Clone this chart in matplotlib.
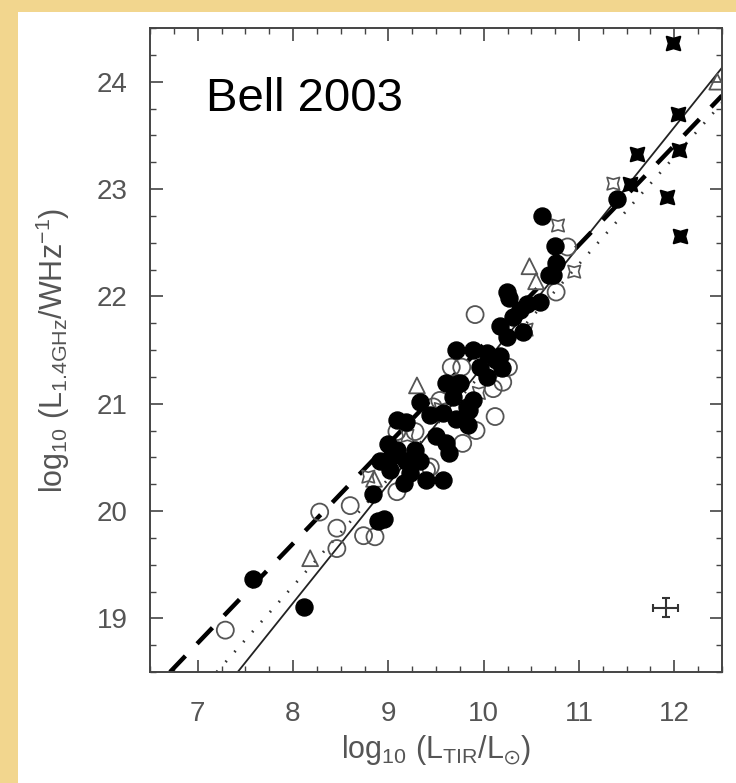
import matplotlib
matplotlib.use("Agg")
import matplotlib.pyplot as plt
from matplotlib.patches import Rectangle
from matplotlib.ticker import MultipleLocator

plt.rcParams['font.family'] = ['Liberation Sans', 'DejaVu Sans']
plt.rcParams['mathtext.fontset'] = 'custom'
plt.rcParams['mathtext.rm'] = 'Liberation Sans'
plt.rcParams['mathtext.it'] = 'Liberation Sans'
plt.rcParams['mathtext.default'] = 'regular'

# ---------------- data ----------------
filled_x = [7.58, 8.12, 8.89, 8.95, 8.84, 8.91, 9.03, 9.09, 9.02, 9.19, 9.23, 9.28, 9.33,
            9.16, 9.40, 9.57, 9.61, 9.64, 9.09, 9.19, 9.44, 9.57, 9.71, 9.84, 9.33, 9.68,
            9.82, 9.89, 9.85, 9.61, 9.75, 9.71, 9.89, 10.03, 10.17, 9.96, 10.03, 10.19,
            10.13, 10.24, 10.45, 10.59, 10.31, 10.17, 10.27, 10.38, 10.24, 10.41, 10.61,
            10.75, 10.76, 10.73, 11.40, 9.50, 9.00, 10.69]
filled_y = [19.37, 19.11, 19.91, 19.93, 20.16, 20.47, 20.50, 20.57, 20.38, 20.47, 20.35, 20.57, 20.47,
            20.26, 20.29, 20.29, 20.63, 20.54, 20.85, 20.83, 20.89, 20.91, 20.86, 20.80, 21.02, 21.06,
            20.97, 21.03, 20.94, 21.19, 21.19, 21.50, 21.50, 21.47, 21.44, 21.34, 21.25, 21.33,
            21.41, 22.04, 21.93, 21.95, 21.81, 21.72, 21.98, 21.87, 21.62, 21.67, 22.75,
            22.47, 22.31, 22.20, 22.91, 20.70, 20.62, 22.20]

open_x = [7.29, 8.28, 8.60, 8.46, 8.74, 8.86, 8.46, 9.09, 9.44, 9.40, 9.09, 9.28, 9.78,
          9.92, 10.12, 9.54, 9.47, 9.66, 9.77, 10.26, 10.20, 10.10, 9.91, 10.76, 10.88]
open_y = [18.89, 19.99, 20.05, 19.84, 19.77, 19.76, 19.65, 20.18, 20.41, 20.38, 20.74, 20.74, 20.63,
          20.75, 20.88, 21.03, 20.97, 21.34, 21.34, 21.34, 21.20, 21.14, 21.83, 22.04, 22.46]

tri_x = [8.18, 9.30, 10.48, 10.55, 12.45, 8.85]
tri_y = [19.56, 21.17, 22.28, 22.14, 24.00, 20.30]

star_x = [8.79, 9.20, 9.55, 9.95, 10.20, 10.45, 10.78, 10.95, 11.36]
star_y = [20.32, 20.70, 20.95, 21.10, 21.31, 21.69, 22.66, 22.23, 23.05]

xmark_x = [11.985, 12.04, 11.61, 12.05, 11.92, 12.06, 11.53]
xmark_y = [24.36, 23.70, 23.33, 23.36, 22.93, 22.56, 23.05]

solid_x, solid_y = [7.42, 12.5], [18.5, 24.13]
dashed_x, dashed_y = [6.71, 12.5], [18.5, 23.87]
dotted_x, dotted_y = [7.20, 12.5], [18.5, 23.80]

err_x, err_y, err_dx, err_dy = [11.91], [19.10], [0.13], [0.09]

xticks = [7, 8, 9, 10, 11, 12]
yticks = [19, 20, 21, 22, 23, 24]

# ---------------- figure ----------------
fig = plt.figure(figsize=(7.36, 7.83), dpi=100)
fig.patch.set_facecolor('#F2D68E')
bg = fig.add_axes([0, 0, 1, 1], zorder=-10)
bg.set_xlim(0, 736)
bg.set_ylim(783, 0)
bg.axis('off')
bg.add_patch(Rectangle((18, 12), 736, 783, facecolor='white', edgecolor='none'))

ax = fig.add_axes([150/736, 1 - 672/783, 572/736, 644/783], zorder=1)
ax.set_facecolor('white')
ax.set_xlim(6.5, 12.5)
ax.set_ylim(18.5, 24.5)

# lines
ax.plot(solid_x, solid_y, color='#222222', lw=1.3, zorder=2)
ax.plot(dashed_x, dashed_y, color='black', lw=3.2, dashes=(5, 3.8), zorder=2)
ax.plot(dotted_x, dotted_y, color='#333333', lw=2.0, dashes=(0.6, 4.2), zorder=2)

# points
ax.scatter(open_x, open_y, s=150, facecolors='none', edgecolors='#555555', linewidths=1.3, zorder=3)
ax.scatter(tri_x, tri_y, s=130, marker='^', facecolors='none', edgecolors='#555555', linewidths=1.3, zorder=3)
ax.scatter(star_x, star_y, s=160, marker=(4, 1, 45), facecolors='none', edgecolors='#555555', linewidths=1.2, zorder=3)
ax.scatter(filled_x, filled_y, s=150, color='black', zorder=4)
ax.scatter(xmark_x, xmark_y, s=190, marker=(4, 1, 45), color='black', edgecolors='black',
           linewidths=1.5, zorder=4)

ax.errorbar(err_x, err_y, xerr=err_dx, yerr=err_dy, fmt='none', ecolor='#333333',
            elinewidth=1.5, capsize=3, capthick=1.5)

ax.text(0.098, 0.871, 'Bell 2003', transform=ax.transAxes, fontsize=34,
        family='Liberation Sans', color='black', ha='left', va='baseline')

# axes styling
ax.set_xticks(xticks)
ax.set_yticks(yticks)
ax.xaxis.set_minor_locator(MultipleLocator(0.25))
ax.yaxis.set_minor_locator(MultipleLocator(0.25))
ax.tick_params(which='both', direction='in', top=True, right=True, colors='#444444')
ax.tick_params(which='major', length=9, width=1.2, labelsize=20, labelcolor='#555555')
ax.tick_params(which='minor', length=4.5, width=1.0)
ax.tick_params(axis='x', which='major', pad=21)
ax.tick_params(axis='y', which='major', pad=16)
for sp in ax.spines.values():
    sp.set_color('#444444')
    sp.set_linewidth(1.4)

ax.set_xlabel(r'log$_{10}$ (L$_{TIR}$/L$_{\odot}$)', fontsize=22, color='#555555', labelpad=4)
ax.set_ylabel(r'log$_{10}$ (L$_{1.4GHz}$/WHz$^{-1}$)', fontsize=22, color='#555555', labelpad=18)

fig.savefig('out.png', dpi=100, facecolor=fig.get_facecolor())
